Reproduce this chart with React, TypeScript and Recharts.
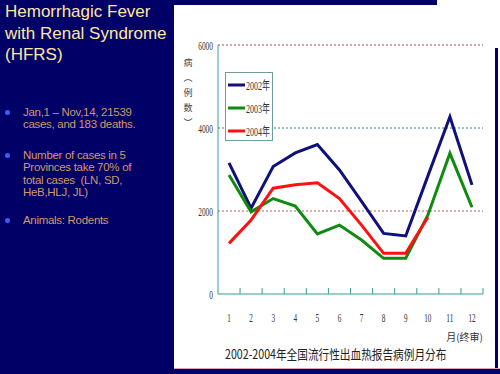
import { LineChart, Line, XAxis, YAxis, ReferenceLine, Legend } from "recharts";

const months = ["1", "2", "3", "4", "5", "6", "7", "8", "9", "10", "11", "12"];
const cases2002 = [3160, 2070, 3070, 3400, 3600, 2990, 2230, 1460, 1400, 2840, 4270, 2630];
const cases2003 = [2870, 1980, 2300, 2120, 1450, 1660, 1300, 860, 860, 1900, 3390, 2090];
const cases2004 = [1220, 1780, 2550, 2630, 2680, 2300, 1660, 980, 980, 1850, null, null];
const yTicks = [0, 2000, 4000, 6000];
const gridLines = [
  { value: 2000, color: "#c85a5a" },
  { value: 4000, color: "#2f8c8c" },
  { value: 6000, color: "#a84848" },
];
const seriesNames = ["2002年", "2003年", "2004年"];
const seriesColors = ["#10107a", "#108a10", "#ff1010"];

const chartTitle = "2002-2004年全国流行性出血热报告病例月分布";
const unitLabel = "月(终审)";
const yLabelGlyphs = ["病", "︵", "例", "数", "︶"];

const slideTitle = ["Hemorrhagic Fever", "with Renal Syndrome", "(HFRS)"];
const bullets = [
  ["Jan,1 – Nov,14, 21539", "cases, and 183 deaths."],
  ["Number of cases in 5", "Provinces take 70% of", "total cases  (LN, SD,", "HeB,HLJ, JL)"],
  ["Animals: Rodents"],
];

const data = months.map((m, i) => ({
  month: m,
  y2002: cases2002[i],
  y2003: cases2003[i],
  y2004: cases2004[i],
}));

const AXIS = "#3f9a9a";
const PAD = 11;

function XTick(props: any) {
  const { x, y, payload, width } = props;
  const step = (width - PAD * 2) / (months.length - 1);
  const label = String(payload.value);
  return (
    <g>
      <line x1={x + step / 2} x2={x + step / 2} y1={y - 6} y2={y} stroke={AXIS} strokeWidth={1} />
      <text
        x={x}
        y={y + 28}
        textAnchor="middle"
        fontFamily="Liberation Serif"
        fontSize={13}
        fill="#333"
        textLength={label.length * 3.6}
        lengthAdjust="spacingAndGlyphs"
      >
        {label}
      </text>
    </g>
  );
}

function YTick(props: any) {
  const { x, y, payload } = props;
  const label = String(payload.value);
  return (
    <text
      x={x}
      y={y + 4.5}
      textAnchor="end"
      fontFamily="Liberation Serif"
      fontSize={13}
      fill="#333"
      textLength={label.length * 3.7}
      lengthAdjust="spacingAndGlyphs"
    >
      {label}
    </text>
  );
}

function LegendBox(props: any) {
  const items = props.payload || [];
  return (
    <svg width={52} height={70} style={{ overflow: "visible" }}>
      <rect x={0.5} y={0.5} width={47} height={68} fill="#fff" stroke="#6f9c9c" />
      {items.map((it: any, i: number) => (
        <g key={i}>
          <line x1={3} x2={20} y1={13 + i * 23} y2={13 + i * 23} stroke={it.color} strokeWidth={3} />
          <text
            x={21}
            y={17.5 + i * 23}
            fontFamily="Liberation Serif, Noto Sans CJK SC"
            fontSize={12}
            fill="#333"
            textLength={24}
            lengthAdjust="spacingAndGlyphs"
          >
            {it.value}
          </text>
        </g>
      ))}
    </svg>
  );
}

export default function App() {
  return (
    <div style={{ position: "absolute", left: 0, top: 0, width: 500, height: 374, background: "#000066", overflow: "hidden", fontFamily: "Liberation Sans, Arial, sans-serif" }}>
      <div style={{ position: "absolute", left: 174, top: 5, width: 326, height: 364, background: "#fff" }} />
      <div style={{ position: "absolute", left: 437, top: 0, width: 63, height: 5, background: "#fff" }} />
      <div style={{ position: "absolute", left: 495, top: 48, width: 3, height: 321, background: "#000066" }} />
      <div style={{ position: "absolute", left: 174, top: 368, width: 326, height: 1, background: "#e0a0c0" }} />

      <div style={{ position: "absolute", left: 5, top: 1, color: "#ffe6a6", fontSize: 17, lineHeight: "21.7px" }}>
        {slideTitle.map((t, i) => (
          <div key={i}>{t}</div>
        ))}
      </div>

      {bullets.map((lines, bi) => {
        const tops = [106, 149, 214];
        return (
          <div key={bi} style={{ position: "absolute", left: 0, top: tops[bi], width: 170 }}>
            <div style={{ position: "absolute", left: 5, top: 4, width: 5, height: 5, borderRadius: 3, background: "#3a5cff" }} />
            <div style={{ position: "absolute", left: 23, top: 0, color: "#cf9a6a", fontSize: 11.5, lineHeight: "12.4px", letterSpacing: -0.3, whiteSpace: "pre" }}>
              {lines.map((l, i) => (
                <div key={i}>{l}</div>
              ))}
            </div>
          </div>
        );
      })}

      <div style={{ position: "absolute", left: 0, top: 0 }}>
        <LineChart width={500} height={374} data={data} margin={{ top: 45, right: 17, bottom: 50, left: 178 }}>
          <XAxis
            dataKey="month"
            padding={{ left: PAD, right: PAD }}
            height={30}
            stroke={AXIS}
            tickSize={0}
            tickMargin={0}
            tickLine={false}
            interval={0}
            tick={<XTick />}
          />
          <YAxis
            width={40}
            domain={[0, 6000]}
            ticks={yTicks}
            stroke={AXIS}
            tickLine={false}
            tickSize={0}
            tickMargin={5}
            tick={<YTick />}
          />
          {gridLines.map((g) => (
            <ReferenceLine key={g.value} y={g.value} stroke={g.color} strokeDasharray="2 2" />
          ))}
          <Legend
            layout="vertical"
            align="center"
            verticalAlign="middle"
            content={<LegendBox />}
            wrapperStyle={{ left: 225, top: 72, width: 52, height: 70 }}
          />
          <Line dataKey="y2002" name={seriesNames[0]} stroke={seriesColors[0]} strokeWidth={3} dot={false} isAnimationActive={false} />
          <Line dataKey="y2003" name={seriesNames[1]} stroke={seriesColors[1]} strokeWidth={3} dot={false} isAnimationActive={false} />
          <Line dataKey="y2004" name={seriesNames[2]} stroke={seriesColors[2]} strokeWidth={3} dot={false} isAnimationActive={false} />
        </LineChart>
      </div>

      <svg width={500} height={374} style={{ position: "absolute", left: 0, top: 0, pointerEvents: "none" }}>
        {yLabelGlyphs.map((c, i) => (
          <text key={i} x={188} y={66 + i * 15} textAnchor="middle" fontFamily="Noto Sans CJK SC" fontSize={9} fill="#444">
            {c}
          </text>
        ))}
        <text x={483} y={341} textAnchor="end" fontFamily="Noto Sans CJK SC" fontSize={10} fill="#333">
          {unitLabel}
        </text>
        <text transform="translate(225,359) scale(0.82,1)" x={0} y={0} fontFamily="Noto Sans CJK SC" fontSize={13} fill="#222">
          {chartTitle}
        </text>
      </svg>
    </div>
  );
}
